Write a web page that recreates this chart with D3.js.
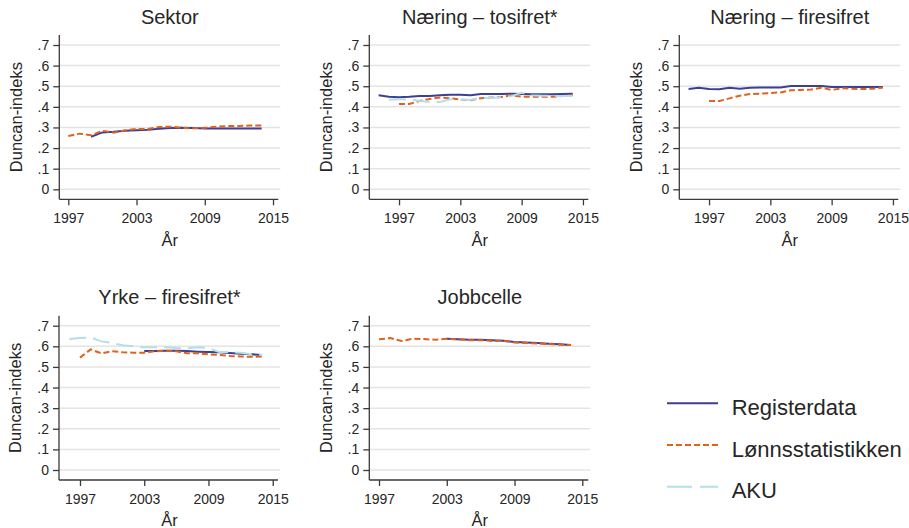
<!DOCTYPE html>
<html>
<head>
<meta charset="utf-8">
<script src="https://cdn.jsdelivr.net/npm/d3@7"></script>
<style>
  html, body { margin: 0; padding: 0; background: #fff; }
  svg { display: block; font-family: "Liberation Sans", Arial, sans-serif; }
</style>
</head>
<body>
<svg id="chart" width="909" height="528"></svg>
<script>
// years shared by all panels
const years = [1995, 1996, 1997, 1998, 1999, 2000, 2001, 2002, 2003, 2004,
               2005, 2006, 2007, 2008, 2009, 2010, 2011, 2012, 2013, 2014];

const yTicks = [0, 0.1, 0.2, 0.3, 0.4, 0.5, 0.6, 0.7];
const xTicks = [1997, 2003, 2009, 2015];

const seriesNames = ['Registerdata', 'Lønnsstatistikken', 'AKU'];

// Sektor
const sektorReg  = [null, null, null, null, .255, .276, .279, .284, .287, .289, .294, .297, .299, .297, .295, .295, .295, .295, .295, .295];
const sektorLonn = [null, null, .259, .270, .262, .284, .275, .286, .293, .293, .302, .304, .298, .296, .298, .304, .307, .307, .309, .309];

// Næring – tosifret
const tosifReg  = [.456, .449, .447, .449, .453, .453, .456, .459, .459, .456, .462, .462, .462, .464, .462, .461, .461, .461, .462, .464];
const tosifLonn = [null, null, .414, .414, .428, .438, .445, .442, .435, .432, .442, .445, .448, .456, .449, .449, .449, .449, .453, .456];
const tosifAku  = [null, .435, .437, .437, .428, .423, .424, .437, .435, .434, .443, .444, .445, .452, .468, .456, .454, .453, .452, .452];

// Næring – firesifret
const firesifReg  = [.486, .493, .486, .485, .493, .488, .493, .494, .494, .494, .501, .501, .501, .501, .496, .496, .496, .496, .496, .496];
const firesifLonn = [null, null, .428, .428, .441, .454, .462, .464, .467, .470, .480, .482, .484, .493, .482, .490, .488, .486, .488, .493];

// Yrke – firesifret
const yrkeReg  = [null, null, null, null, null, null, null, null, .577, .577, .579, .579, .577, .574, .572, .571, .568, .564, .561, .558];
const yrkeLonn = [null, null, .545, .585, .566, .576, .571, .569, .569, .576, .579, .576, .566, .566, .561, .558, .553, .551, .549, .551];
const yrkeAku  = [null, .635, .640, .643, .624, .616, .605, .600, .595, .595, .595, .592, .590, .595, .592, .572, .572, .569, .561, .558];

// Jobbcelle
const jobbReg  = [null, null, null, null, null, null, null, null, .637, .634, .632, .632, .630, .627, .621, .618, .616, .613, .610, .606];
const jobbLonn = [null, null, .634, .640, .626, .637, .635, .632, .637, .634, .630, .630, .626, .627, .619, .616, .614, .611, .608, .606];

const panels = [
  { title: 'Sektor',              left: 59.3,  top: 35,    xDom: [1996.21, 2015.64], series: [sektorReg, sektorLonn, null] },
  { title: 'Næring – tosifret*',  left: 369.3, top: 35,    xDom: [1994.09, 2015.72], series: [tosifReg, tosifLonn, tosifAku] },
  { title: 'Næring – firesifret', left: 679.3, top: 35,    xDom: [1994.09, 2015.72], series: [firesifReg, firesifLonn, null] },
  { title: 'Yrke – firesifret*',  left: 59,    top: 315.7, xDom: [1995.04, 2015.68], series: [yrkeReg, yrkeLonn, yrkeAku] },
  { title: 'Jobbcelle',           left: 369.3, top: 315.7, xDom: [1996.14, 2015.71], series: [jobbReg, jobbLonn, null] }
];

const colors = ['#3b3f95', '#e2621c', '#b4dfe8'];
const dashes = [null, '6,3', '17,7'];
const textColor = '#262626';
const W = 221, H = 164.3;

const svg = d3.select('#chart');

panels.forEach(p => {
  const g = svg.append('g').attr('transform', `translate(${p.left},${p.top})`);
  const x = d3.scaleLinear().domain(p.xDom).range([0, W]);
  const y = d3.scaleLinear().domain([-0.0485, 0.7485]).range([H, 0]);

  // gridlines
  g.selectAll('.grid').data(yTicks).enter().append('line')
    .attr('x1', 0).attr('x2', W)
    .attr('y1', d => y(d)).attr('y2', d => y(d))
    .attr('stroke', '#e4e4e4').attr('stroke-width', 1.5);

  // axes
  const yAxis = g.append('g')
    .call(d3.axisLeft(y).tickValues(yTicks).tickSize(6).tickPadding(4)
      .tickFormat(d => d === 0 ? '0' : d3.format('.1f')(d).replace(/^0/, '')));
  const xAxis = g.append('g').attr('transform', `translate(0,${H})`)
    .call(d3.axisBottom(x).tickValues(xTicks).tickSize(6).tickPadding(8).tickFormat(d3.format('d')));

  [yAxis, xAxis].forEach(a => {
    a.select('.domain').attr('stroke', '#3a3a3a').attr('stroke-width', 1.3)
      .attr('d', a === yAxis ? `M0,0V${H}` : `M0,0H${W - 2}`);
    a.selectAll('.tick line').attr('stroke', '#3a3a3a').attr('stroke-width', 1.3);
    a.selectAll('.tick text').attr('fill', textColor).style('font-size', '14px');
  });

  // series
  p.series.forEach((vals, i) => {
    if (!vals) return;
    const pts = years.map((yr, k) => ({ yr, v: vals[k] })).filter(d => d.v != null);
    g.append('path').datum(pts)
      .attr('fill', 'none')
      .attr('stroke', colors[i])
      .attr('stroke-width', 2)
      .attr('stroke-dasharray', dashes[i])
      .attr('d', d3.line().x(d => x(d.yr)).y(d => y(d.v)));
  });

  // title
  g.append('text').attr('x', W / 2).attr('y', -11.5)
    .attr('text-anchor', 'middle').attr('fill', textColor)
    .style('font-size', '20px').text(p.title);

  // y label
  g.append('text')
    .attr('transform', `translate(-37.8,${H / 2}) rotate(-90)`)
    .attr('text-anchor', 'middle').attr('fill', textColor)
    .style('font-size', '16.5px').text('Duncan-indeks');

  // x label
  g.append('text').attr('x', W / 2).attr('y', H + 46.5)
    .attr('text-anchor', 'middle').attr('fill', textColor)
    .style('font-size', '16.5px').text('År');
});

// legend
const legend = svg.append('g').attr('transform', 'translate(667,403.3)');
seriesNames.forEach((name, i) => {
  const row = legend.append('g').attr('transform', `translate(0,${i * 41.7})`);
  row.append('line').attr('x1', 0).attr('x2', 51).attr('y1', 0).attr('y2', 0)
    .attr('stroke', colors[i]).attr('stroke-width', 2)
    .attr('stroke-dasharray', i === 2 ? '25,8' : dashes[i]);
  row.append('text').attr('x', 64.7).attr('y', 11.7)
    .attr('fill', textColor).style('font-size', '22px').text(name);
});
</script>
</body>
</html>
